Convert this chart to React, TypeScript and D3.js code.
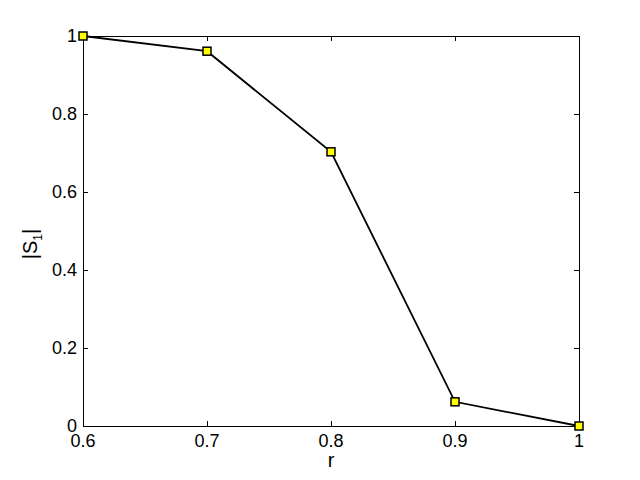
import React from "react";
import * as d3 from "d3";

const rValues = [0.6, 0.7, 0.8, 0.9, 1.0];
const s1Values = [1.0, 0.961, 0.703, 0.062, 0.0];
const xTicks = [0.6, 0.7, 0.8, 0.9, 1.0];
const yTicks = [0, 0.2, 0.4, 0.6, 0.8, 1.0];

export default function App() {
  const W = 640, H = 480;
  const left = 83, right = 579, top = 36, bottom = 426;
  const x = d3.scaleLinear().domain([0.6, 1.0]).range([left, right]);
  const y = d3.scaleLinear().domain([0, 1]).range([bottom, top]);
  const pts = rValues.map((r, i) => [r, s1Values[i]] as [number, number]);
  const line = d3.line<[number, number]>().x(d => x(d[0])).y(d => y(d[1]));
  const fmt = (v: number) => (v === 0 || v === 1 ? String(v) : d3.format(".1f")(v));
  const font = "'Liberation Sans', Arial, Helvetica, sans-serif";
  const tl = 5;
  return (
    <svg width={W} height={H} style={{ position: "absolute", left: 0, top: 0, background: "#fff" }}
      fontFamily={font}>
      <rect x={0} y={0} width={W} height={H} fill="#fff" />
      <rect x={left} y={top} width={right - left} height={bottom - top} fill="#fff" stroke="#000" strokeWidth={1} shapeRendering="crispEdges" />
      {xTicks.map(t => (
        <g key={"x" + t} shapeRendering="crispEdges">
          <line x1={x(t)} x2={x(t)} y1={bottom} y2={bottom - tl} stroke="#000" />
          <line x1={x(t)} x2={x(t)} y1={top} y2={top + tl} stroke="#000" />
          <text x={x(t)} y={bottom + 21} textAnchor="middle" fontSize={18}>{fmt(t)}</text>
        </g>
      ))}
      {yTicks.map(t => (
        <g key={"y" + t} shapeRendering="crispEdges">
          <line x1={left} x2={left + tl} y1={y(t)} y2={y(t)} stroke="#000" />
          <line x1={right} x2={right - tl} y1={y(t)} y2={y(t)} stroke="#000" />
          <text x={left - 6} y={y(t) + 6} textAnchor="end" fontSize={18}>{fmt(t)}</text>
        </g>
      ))}
      <path d={line(pts) || ""} fill="none" stroke="#000" strokeWidth={1.8} />
      {pts.map((p, i) => (
        <rect key={i} x={x(p[0]) - 4} y={y(p[1]) - 4} width={8} height={8} fill="#ffff00" stroke="#000" strokeWidth={1.5} />
      ))}
      <text x={(left + right) / 2} y={bottom + 41} textAnchor="middle" fontSize={20}>r</text>
      <text transform={`translate(37, 244) rotate(-90)`} textAnchor="middle" fontSize={20}>
        |S<tspan fontSize={12} dy={5}>1</tspan><tspan dy={-5}>|</tspan>
      </text>
    </svg>
  );
}
